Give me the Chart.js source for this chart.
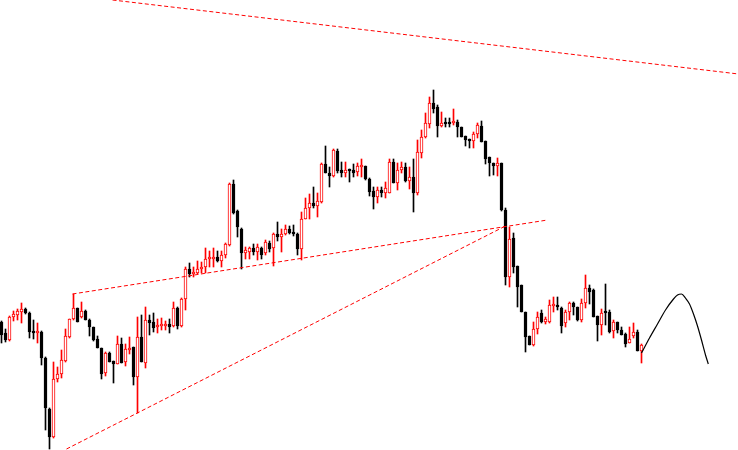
<!DOCTYPE html>
<html><head><meta charset="utf-8">
<script src="https://cdn.jsdelivr.net/npm/chart.js@4.4.0/dist/chart.umd.min.js"></script>
<style>html,body{margin:0;padding:0;background:#fff}#wrap{width:738px;height:450px;position:relative}</style>
</head><body><div id="wrap"><canvas id="c"></canvas></div>
<script>
// Candle OHLC values (price units), one entry per bar
const openP = [128,117,110,133,135,138,141,137,119,117,
118,92,41,13,71,76,89,113,131,142,
133,139,130,123,111,102,77,97,89,86,
106,88,100,103,73,113,87,130,128,123,
124,124,126,124,142,124,151,181,176,177,
181,183,191,191,193,189,195,205,266,239,
221,197,198,202,198,202,197,207,202,216,
213,216,221,218,216,201,231,242,247,244,
248,286,277,274,299,280,277,280,280,278,
283,284,271,259,253,260,257,257,288,267,
280,283,269,273,257,297,313,326,347,343,
324,327,327,327,328,323,314,311,309,316,
324,309,293,287,284,287,240,173,212,184,
165,138,114,105,121,137,128,128,144,145,
142,127,138,147,143,130,147,162,160,134,
125,138,138,119,128,120,116,107,114,118,
99];
const highP = [129,121,134,139,141,147,142,138,130,127,
119,93,42,88,83,100,121,131,156,142,
148,140,131,123,114,102,98,98,89,114,
112,106,113,103,133,135,143,135,137,131,
132,129,131,148,143,152,183,187,183,189,
188,202,199,202,199,199,207,267,270,240,
222,203,203,206,206,203,210,209,217,228,
221,225,224,225,217,238,252,256,263,257,
287,304,283,301,301,288,288,281,286,287,
291,284,272,263,263,263,268,291,291,287,
288,287,283,291,310,320,337,353,360,345,
338,332,332,341,330,323,314,311,318,327,
329,309,293,287,292,287,242,223,217,184,
165,138,114,128,138,140,133,150,153,153,
143,140,148,148,143,151,175,165,161,134,
141,166,140,130,128,123,117,123,127,120,
106];
const lowP = [107,108,109,129,130,127,136,112,111,107,
85,20,1,12,68,72,88,112,130,128,
132,130,114,109,102,71,74,88,67,86,
87,84,96,65,37,88,82,115,118,117,
120,120,117,123,121,123,140,173,173,176,
177,177,183,183,188,183,192,204,236,213,
181,191,191,195,190,191,195,198,184,209,
198,215,216,214,195,190,231,231,242,233,
247,277,263,273,277,273,273,268,273,274,
273,270,254,241,247,253,252,257,267,260,
277,268,261,238,255,292,312,322,337,313,
323,323,323,325,313,313,304,302,302,312,
308,286,274,275,274,239,165,163,177,143,
138,98,105,104,116,127,126,127,138,140,
117,123,130,135,129,128,142,146,133,109,
115,125,117,112,117,115,103,107,112,99,
87];
const closeP = [115,110,133,136,139,141,137,118,117,118,
92,42,13,71,76,90,114,131,142,128,
139,130,123,110,102,76,97,88,86,106,
87,101,102,73,113,88,130,127,122,125,
126,126,123,142,124,151,181,176,178,181,
183,191,192,193,189,195,206,266,237,223,
197,200,202,198,203,195,208,201,216,213,
216,221,217,216,201,231,242,247,244,249,
286,277,274,300,279,277,280,279,277,284,
285,271,258,253,260,257,262,288,267,280,
283,269,273,257,298,313,327,347,341,324,
327,326,326,328,323,313,310,309,316,325,
308,291,287,284,287,240,173,211,183,163,
138,113,105,121,133,128,131,145,145,143,
124,138,147,143,130,147,162,158,133,125,
137,137,118,128,120,115,106,111,118,99,
105];
const bars = openP.map((_, i) => i);

// Forecast curve (bar position, price)
const forecastX = [160,162,164,166,168,169,170,171,172,173,174,175,176,176.7];
const forecastY = [97,112,126,140,151,155,156,152,146,136,124,110,95,86];

// Trend lines (bar position, price)
const resistX = [27.75,184.25];
const resistY = [450,376];
const supportHiX = [17.75,136.5];
const supportHiY = [156,230];
const supportLoX = [16.25,126];
const supportLoY = [1,224];

const UP = '#ff0000', DOWN = '#000000';
const isUp = bars.map(i => closeP[i] >= openP[i]);
const pts = (xs, ys) => xs.map((x, i) => ({x, y: ys[i]}));
const DASH = [4,2.5];

new Chart(document.getElementById('c'), {
  type: 'bar',
  data: {
    datasets: [
      {
        type: 'line', data: pts(resistX, resistY), borderColor: UP, borderWidth: 1,
        borderDash: DASH, pointRadius: 0, fill: false, tension: 0, order: 0
      },
      {
        type: 'line', data: pts(supportHiX, supportHiY), borderColor: UP, borderWidth: 1,
        borderDash: DASH, pointRadius: 0, fill: false, tension: 0, order: 0
      },
      {
        type: 'line', data: pts(supportLoX, supportLoY), borderColor: UP, borderWidth: 1,
        borderDash: DASH, pointRadius: 0, fill: false, tension: 0, order: 0
      },
      {
        type: 'line', data: pts(forecastX, forecastY), borderColor: '#000', borderWidth: 1.2,
        pointRadius: 0, fill: false, cubicInterpolationMode: 'monotone', order: 0
      },
      {
        data: bars.map(i => ({x: i, y: [openP[i], closeP[i]]})),
        backgroundColor: bars.map(i => isUp[i] ? '#ffffff' : DOWN),
        borderColor: bars.map(i => isUp[i] ? UP : DOWN),
        borderWidth: 1, borderSkipped: false, barThickness: 3, minBarLength: 2,
        grouped: false, order: 1
      },
      {
        data: bars.map(i => ({x: i, y: [lowP[i], highP[i]]})),
        backgroundColor: bars.map(i => isUp[i] ? UP : DOWN),
        borderWidth: 0, barThickness: 1, grouped: false, order: 2
      }
    ]
  },
  options: {
    responsive: true, maintainAspectRatio: false, animation: false,
    layout: {padding: 0},
    plugins: {legend: {display: false}, tooltip: {enabled: false}},
    scales: {
      x: {type: 'linear', min: -0.375, max: 184.125, display: false, offset: false},
      y: {type: 'linear', min: 0, max: 450, display: false}
    }
  }
});
</script></body></html>
